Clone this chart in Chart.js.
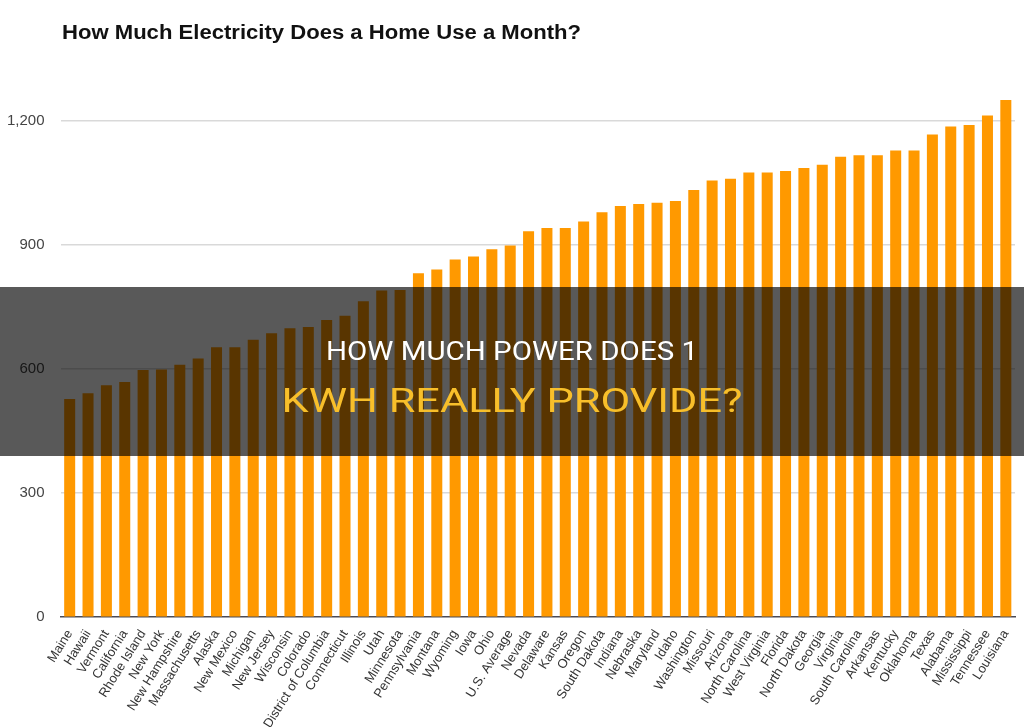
<!DOCTYPE html>
<html><head><meta charset="utf-8">
<script src="https://cdn.jsdelivr.net/npm/chart.js@4"></script>
<style>
html,body{margin:0;padding:0;background:#fff;width:1024px;height:727px;overflow:hidden}
#wrap{position:relative;width:1024px;height:727px;overflow:hidden}
#c{position:absolute;left:0;top:0}
#ov{position:absolute;left:0;top:0;pointer-events:none}
</style></head>
<body><div id="wrap">
<canvas id="c" width="1024" height="733"></canvas>
<svg id="ov" width="1024" height="727" xmlns="http://www.w3.org/2000/svg">
  <text x="62" y="39" font-family="Liberation Sans, Arial, sans-serif" font-weight="bold" font-size="19.5" fill="#111" textLength="519" lengthAdjust="spacingAndGlyphs">How Much Electricity Does a Home Use a Month?</text>
  <rect x="0" y="287" width="1024" height="169" fill="rgba(0,0,0,0.65)"/>
  <text x="512" y="359.5" text-anchor="middle" font-family="Roboto, sans-serif" font-size="25" fill="#ffffff" textLength="372" lengthAdjust="spacingAndGlyphs">HOW MUCH POWER DOES 1</text>
  <text x="512" y="411.7" text-anchor="middle" font-family="Roboto, sans-serif" font-size="33" fill="#f8bf2a" textLength="461" lengthAdjust="spacingAndGlyphs">KWH REALLY PROVIDE?</text>
</svg>
</div>
<script>
const categories = ["Maine","Hawaii","Vermont","California","Rhode Island","New York","New Hampshire","Massachusetts","Alaska","New Mexico","Michigan","New Jersey","Wisconsin","Colorado","District of Columbia","Connecticut","Illinois","Utah","Minnesota","Pennsylvania","Montana","Wyoming","Iowa","Ohio","U.S. Average","Nevada","Delaware","Kansas","Oregon","South Dakota","Indiana","Nebraska","Maryland","Idaho","Washington","Missouri","Arizona","North Carolina","West Virginia","Florida","North Dakota","Georgia","Virginia","South Carolina","Arkansas","Kentucky","Oklahoma","Texas","Alabama","Mississippi","Tennessee","Louisiana"];
const kwhPerMonth = [527,541,560,568,597,598,610,625,652,652,670,686,698,701,718,728,763,789,790,831,840,864,871,889,898,932,940,940,956,978,993,998,1001,1005,1032,1055,1059,1074,1074,1078,1085,1093,1112,1116,1116,1127,1127,1166,1185,1189,1212,1249];
const yTickValues = [0,300,600,900,1200];
const yMax = 1300;

new Chart(document.getElementById('c'), {
  type: 'bar',
  data: {
    labels: categories,
    datasets: [{
      data: kwhPerMonth,
      backgroundColor: '#ff9900',
      barPercentage: 0.6,
      categoryPercentage: 1.0
    }]
  },
  options: {
    responsive: false,
    animation: false,
    devicePixelRatio: 1,
    layout: { padding: { left: 7, right: 9, top: 79, bottom: 0 } },
    plugins: { legend: { display: false }, tooltip: { enabled: false } },
    scales: {
      x: {
        afterFit: (scale) => { scale.paddingLeft = 0; scale.paddingRight = 0; },
        grid: { display: false },
        border: { display: true, color: '#4a4a55', width: 1.5 },
        ticks: {
          autoSkip: false, minRotation: 58, maxRotation: 58,
          color: '#333', padding: 2,
          font: { family: 'Liberation Sans, Arial, sans-serif', size: 13 }
        }
      },
      y: {
        min: 0, max: yMax,
        afterBuildTicks: (scale) => { scale.ticks = yTickValues.map(v => ({ value: v })); },
        afterFit: (scale) => { scale.width = 53.5; },
        grid: {
          drawTicks: false,
          color: (ctx) => ctx.tick && ctx.tick.value === 0 ? 'rgba(0,0,0,0)' : '#d9d9d9',
          lineWidth: 1.5
        },
        border: { display: false },
        ticks: {
          padding: 16, color: '#444',
          font: { family: 'Liberation Sans, Arial, sans-serif', size: 15 },
          callback: (v) => v.toLocaleString('en-US')
        }
      }
    }
  }
});
</script>
</body></html>
